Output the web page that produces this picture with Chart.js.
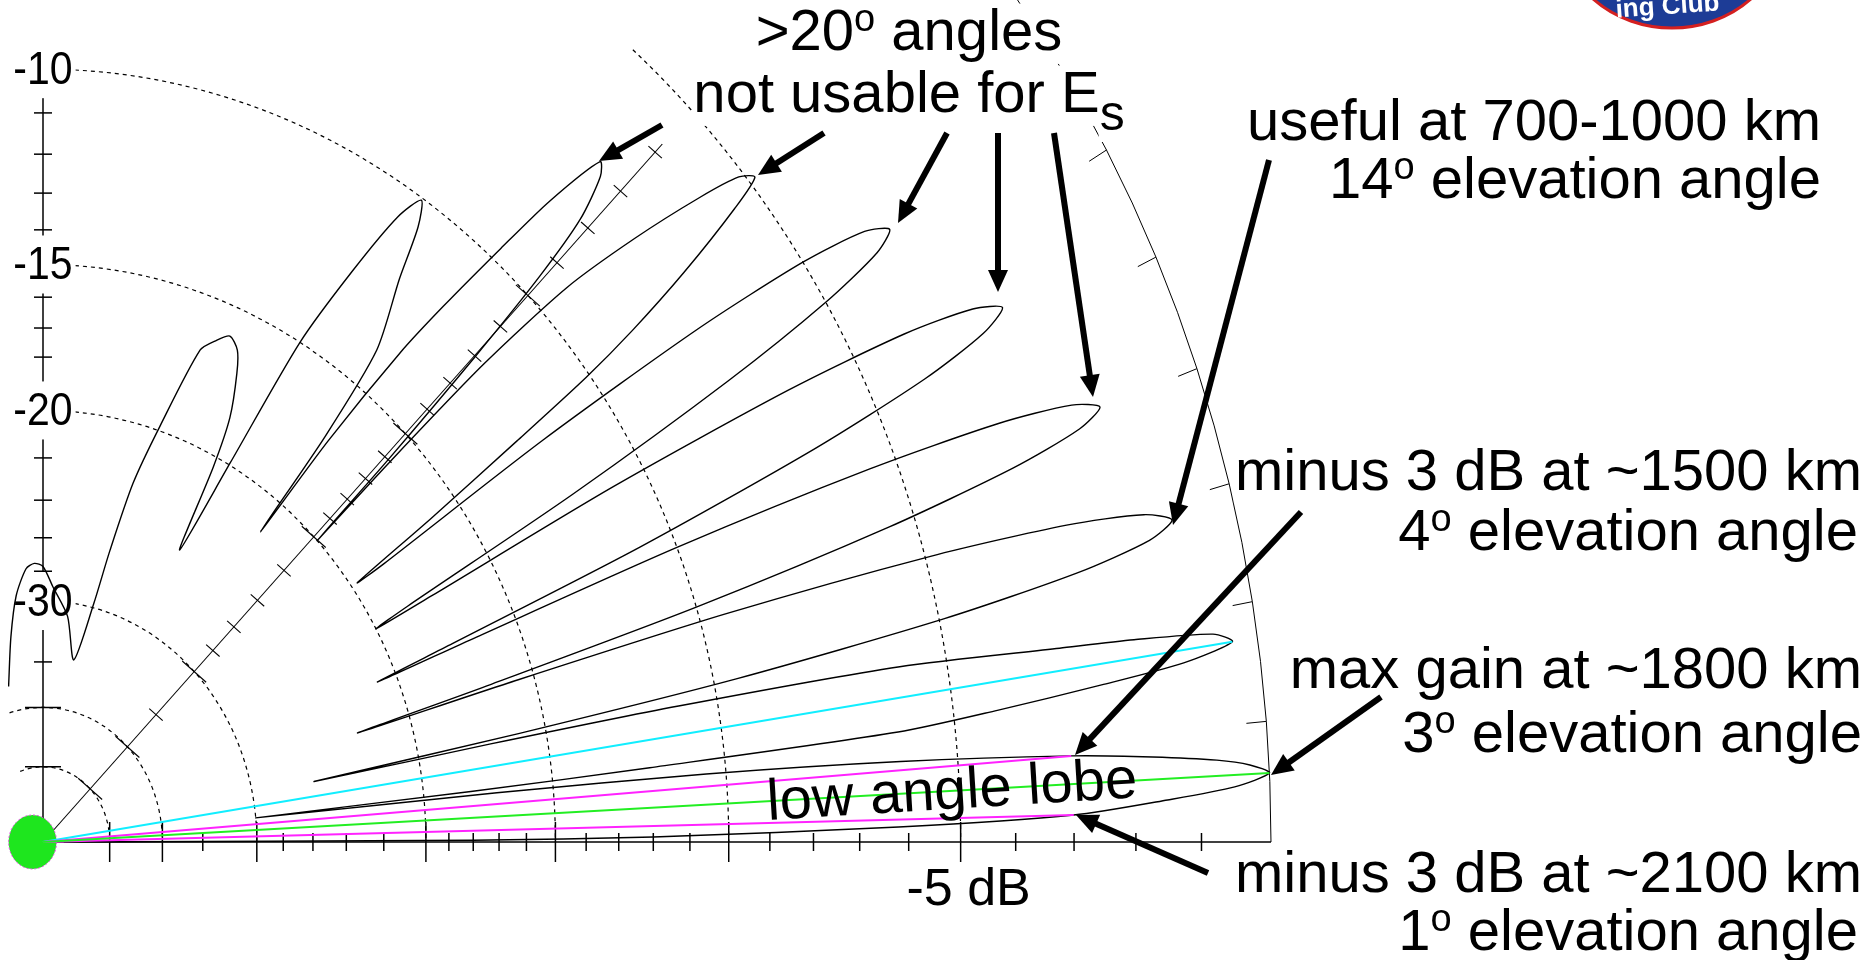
<!DOCTYPE html>
<html>
<head>
<meta charset="utf-8">
<title>Elevation pattern</title>
<script src="https://cdn.jsdelivr.net/npm/chart.js@4.4.1/dist/chart.umd.min.js"></script>
<style>
  html, body { margin: 0; padding: 0; background: #fff; }
  #wrap { width: 1875px; height: 960px; }
</style>
</head>
<body>
<div id="wrap"><canvas id="elev" width="1875" height="960"></canvas></div>
<script>
// elevation pattern: angle above horizon (deg) and gain (dB below max)
var elevDeg = [
    0, 0.2, 0.42, 0.89, 1.33, 1.9, 2.35, 2.86, 3.24, 3.54, 3.89, 4.25, 4.76, 5.2, 5.5, 5.75,
    5.97, 6.2, 6.51, 6.98, 7.5, 7.93, 8.5, 8.96, 9.34, 9.6, 10.29, 10.75, 11.0, 11.2,
    11.44, 11.8, 12.4, 13.0, 13.6, 14.2, 14.78, 15.36, 15.94, 16.52, 16.87, 17.1,
    17.34, 17.69, 18.28, 18.88, 19.47, 20.06, 20.65, 21.24, 21.82, 22.41, 22.76, 23.0,
    23.26, 23.66, 24.32, 24.98, 25.64, 26.3, 26.96, 27.62, 28.28, 28.94, 29.34, 29.6,
    29.85, 30.22, 30.84, 31.46, 32.08, 32.7, 33.4, 34.1, 34.8, 35.5, 35.92, 36.2,
    36.5, 36.9, 37.2, 37.6, 38.26, 39.1, 39.65, 40.3, 41.05, 42.15, 43.2, 43.9, 44.2, 44.3,
    44.5, 44.9, 45.3, 45.8, 46.65, 47.3, 48.3, 49.0, 49.9, 50.55, 51.3, 51.7,
    51.9, 52.6, 54.5, 55.5, 56.4, 57.4, 58.6, 59.9, 60.9, 62.2,
    62.9, 63.6, 65.0, 66.0, 67.4, 68.7, 70.2, 72.4, 74.2, 75.5, 76.5, 79.2,
    83, 87.5, 90, 92, 94, 97, 100, 104
];
var gainDb = [
    -70, -18, -12, -6.2, -3.0, -1.5, -0.5, 0, -0.27, -0.74, -1.7, -3.0, -6.1, -10.5, -17, -30,
    -18, -12, -6.1, -4.2, -2.4, -1.1, -0.36, -0.62, -1.8, -3.0, -5.9, -11, -17, -25.6,
    -15.9, -9.4, -4.9, -2.5, -1.3, -0.91, -1.3, -2.5, -4.9, -9.4, -15.9, -22.6,
    -16.5, -10, -5.5, -3.1, -1.9, -1.5, -1.9, -3.1, -5.5, -10, -16.5, -20.9,
    -17.4, -10.9, -6.4, -4.0, -2.8, -2.36, -2.8, -4.0, -6.4, -10.9, -17.4, -20,
    -18.4, -11.9, -7.4, -5.0, -3.8, -3.42, -3.8, -5.0, -7.4, -11.9, -18.4, -19.7,
    -16, -12.5, -10.1, -8.6, -7.0, -5.5, -4.87, -5.1, -5.9, -7.4, -9.2, -12, -16, -20,
    -16, -12, -9.5, -8.0, -7.1, -6.9, -8.2, -9.7, -11.7, -13.4, -17, -21.5,
    -17, -13.8, -11.9, -10.6, -10.05, -10.7, -12.5, -15, -19.9, -24.6,
    -20.4, -18.4, -16.9, -16.2, -15.9, -16.2, -16.7, -19.8, -22.5, -26.2, -29.7, -34.5,
    -31, -29, -27.7, -27.5, -27.8, -29.5, -32.5, -37
];

// marker lines drawn from the feed point
var peakDeg = 2.86, peakDb = 0;
var lobe2Deg = 8.5, lobe2Db = -0.36;
var halfPowerDeg = [1.33, 4.25], halfPowerDb = -3;

// grid
var ringDb = [-50, -40, -30, -20, -15, -10, -5];
var ringEndDeg = [110, 110, 90, 90, 90, 90, 50];
var tickDb = [-50, -40, -35, -30, -28, -26, -24, -22, -20, -19, -18, -17, -16, -15, -14, -13, -12, -11,
    -10, -9, -8, -7, -6, -5, -4, -3, -2, -1];
var axisLabelDb = [-30, -20, -15, -10];
var rimTickDeg = [5, 10, 15, 20, 25, 30, 35];
var cursorDeg = 45, cursorEndDb = -5.8;

var FAMILY = "'Liberation Sans', Arial, Helvetica, sans-serif";

// ARRL log scale: radius drops by 0.89 every 2 dB
function arrl(db) {
    return Math.pow(0.89, -db / 2);
}

function toXY(deg, db) {
    var r = arrl(db), t = deg * Math.PI / 180;
    return { x: r * Math.cos(t), y: r * Math.sin(t) };
}

var pattern = elevDeg.map(function (d, i) {
    return toXY(d, gainDb[i]);
});
var origin = { x: 0, y: 0 };

var gridPlugin = {
    id: 'polarGrid',
    beforeDatasetsDraw: function (chart) {
        var ctx = chart.ctx, xs = chart.scales.x, ys = chart.scales.y, area = chart.chartArea;
        var ox = xs.getPixelForValue(0), oy = ys.getPixelForValue(0);
        var kx = xs.getPixelForValue(1) - ox, ky = oy - ys.getPixelForValue(1);

        function pt(r, deg) {
            var t = deg * Math.PI / 180;
            return [ox + r * kx * Math.cos(t), oy - r * ky * Math.sin(t)];
        }
        function seg(p, q) {
            ctx.beginPath();
            ctx.moveTo(p[0], p[1]);
            ctx.lineTo(q[0], q[1]);
            ctx.stroke();
        }

        ctx.save();
        ctx.beginPath();
        ctx.rect(area.left, area.top, area.right - area.left, area.bottom - area.top);
        ctx.clip();

        ctx.strokeStyle = '#000';
        ctx.lineWidth = 1.2;
        ctx.setLineDash([4, 4]);
        ringDb.forEach(function (db, i) {
            var r = arrl(db);
            ctx.beginPath();
            ctx.ellipse(ox, oy, r * kx, r * ky, 0, -ringEndDeg[i] * Math.PI / 180, 0);
            ctx.stroke();
        });
        ctx.setLineDash([]);

        // 0 dB rim with 5 degree ticks
        ctx.lineWidth = 1;
        ctx.beginPath();
        ctx.ellipse(ox, oy, kx, ky, 0, -40 * Math.PI / 180, 0);
        ctx.stroke();
        rimTickDeg.forEach(function (deg) {
            seg(pt(1, deg), pt(1 - 20 / kx, deg));
        });

        // horizontal axis
        ctx.lineWidth = 1.5;
        seg([ox, oy], [ox + kx, oy]);
        tickDb.forEach(function (db) {
            var x = ox + arrl(db) * kx, big = ringDb.indexOf(db) >= 0;
            seg([x, oy - (big ? 20 : 9)], [x, oy + (big ? 20 : 9)]);
        });

        // vertical axis
        seg([ox, oy], [ox, oy - arrl(-10) * ky]);
        tickDb.forEach(function (db) {
            if (db > -10.5) return;
            var y = oy - arrl(db) * ky, h = ringDb.indexOf(db) >= 0 ? 18 : 9;
            seg([ox - h, y], [ox + h, y]);
        });

        // 45 degree cursor line
        ctx.lineWidth = 1.1;
        seg([ox, oy], pt(arrl(cursorEndDb), cursorDeg));
        var len = Math.sqrt(kx * kx + ky * ky), nx = ky / len, ny = kx / len;
        tickDb.forEach(function (db) {
            if (db > -6) return;
            var p = pt(arrl(db), cursorDeg), h = ringDb.indexOf(db) >= 0 ? 16 : 9;
            seg([p[0] - nx * h, p[1] - ny * h], [p[0] + nx * h, p[1] + ny * h]);
        });

        // dB labels on the vertical axis
        ctx.font = '41px ' + FAMILY;
        ctx.textAlign = 'center';
        ctx.textBaseline = 'middle';
        axisLabelDb.forEach(function (db) {
            var y = oy - arrl(db) * ky, t = String(db), w = ctx.measureText(t).width;
            ctx.fillStyle = '#fff';
            ctx.fillRect(ox - w / 2 - 3, y - 29, w + 6, 58);
            ctx.fillStyle = '#000';
            ctx.save();
            ctx.translate(ox, y + 2);
            ctx.scale(1, 1.12);
            ctx.fillText(t, 0, 0);
            ctx.restore();
        });

        // feed point marker
        var cx = xs.getPixelForValue(-0.0085);
        ctx.beginPath();
        ctx.ellipse(cx, oy, 0.0195 * kx, 0.0195 * ky, 0, 0, 2 * Math.PI);
        ctx.fillStyle = '#1ee61e';
        ctx.fill();
        ctx.strokeStyle = '#e04ae0';
        ctx.lineWidth = 1;
        ctx.setLineDash([2, 2]);
        ctx.stroke();
        ctx.setLineDash([]);
        ctx.restore();

        // scale label under the -5 dB ring
        ctx.save();
        ctx.font = '52px ' + FAMILY;
        ctx.fillStyle = '#000';
        ctx.textAlign = 'center';
        ctx.textBaseline = 'alphabetic';
        ctx.fillText('-5 dB', ox + arrl(-5) * kx + 8, 905);
        ctx.restore();
    }
};

// callouts
var notes = [
    { runs: [['>20', 58, 0], ['o', 38, -19], [' angles', 58, 0]], x: 909, y: 50, align: 'center' },
    { runs: [['not usable for E', 58, 0], ['s', 50, 18]], x: 909, y: 112, align: 'center' },
    { runs: [['useful at 700-1000 km', 58, 0]], x: 1821, y: 140, align: 'right' },
    { runs: [['14', 58, 0], ['o', 38, -19], [' elevation angle', 58, 0]], x: 1821, y: 198, align: 'right' },
    { runs: [['minus 3 dB at ~1500 km', 58, 0]], x: 1862, y: 490, align: 'right' },
    { runs: [['4', 58, 0], ['o', 38, -19], [' elevation angle', 58, 0]], x: 1858, y: 550, align: 'right' },
    { runs: [['max gain at ~1800 km', 58, 0]], x: 1862, y: 688, align: 'right' },
    { runs: [['3', 58, 0], ['o', 38, -19], [' elevation angle', 58, 0]], x: 1862, y: 752, align: 'right' },
    { runs: [['minus 3 dB at ~2100 km', 58, 0]], x: 1862, y: 892, align: 'right' },
    { runs: [['1', 58, 0], ['o', 38, -19], [' elevation angle', 58, 0]], x: 1858, y: 950, align: 'right' }
];
var arrows = [
    [662, 125, 599, 161], [824, 133, 758, 175], [947, 133, 898, 223], [998, 133, 998, 292],
    [1054, 133, 1093, 397], [1269, 160, 1173, 525], [1301, 512, 1075, 755],
    [1381, 697, 1271, 775], [1208, 873, 1076, 815]
];

var notesPlugin = {
    id: 'callouts',
    afterDraw: function (chart) {
        var ctx = chart.ctx;
        ctx.save();
        ctx.textBaseline = 'alphabetic';
        ctx.textAlign = 'left';

        notes.forEach(function (n) {
            var w = 0;
            n.runs.forEach(function (r) {
                ctx.font = r[1] + 'px ' + FAMILY;
                r.w = ctx.measureText(r[0]).width;
                w += r.w;
            });
            var x = n.align === 'right' ? n.x - w : n.align === 'center' ? n.x - w / 2 : n.x;
            var x0 = x;
            ctx.fillStyle = '#fff';
            n.runs.forEach(function (r) {
                ctx.fillRect(x0 - 1, n.y + r[2] - r[1] * 0.8, r.w + 2, r[1] * 1.04);
                x0 += r.w;
            });
            ctx.fillStyle = '#000';
            n.runs.forEach(function (r) {
                ctx.font = r[1] + 'px ' + FAMILY;
                ctx.fillText(r[0], x, n.y + r[2]);
                x += r.w;
            });
        });

        // label sitting on the main lobe
        ctx.save();
        ctx.translate(768, 820);
        ctx.rotate(-3.5 * Math.PI / 180);
        ctx.font = '58px ' + FAMILY;
        ctx.fillStyle = '#000';
        ctx.fillText('low angle lobe', 0, 0);
        ctx.restore();

        // arrows
        ctx.strokeStyle = '#000';
        ctx.fillStyle = '#000';
        ctx.lineWidth = 6;
        arrows.forEach(function (a) {
            var dx = a[2] - a[0], dy = a[3] - a[1], l = Math.sqrt(dx * dx + dy * dy);
            var ux = dx / l, uy = dy / l, hl = 22, hw = 10;
            var bx = a[2] - ux * hl, by = a[3] - uy * hl;
            ctx.beginPath();
            ctx.moveTo(a[0], a[1]);
            ctx.lineTo(bx + ux * 2, by + uy * 2);
            ctx.stroke();
            ctx.beginPath();
            ctx.moveTo(a[2], a[3]);
            ctx.lineTo(bx - uy * hw, by + ux * hw);
            ctx.lineTo(bx + uy * hw, by - ux * hw);
            ctx.closePath();
            ctx.fill();
        });

        // club badge peeking in at the top right
        ctx.beginPath();
        ctx.ellipse(1672, -72, 112, 100, 0, 0, 2 * Math.PI);
        ctx.fillStyle = '#1d3c96';
        ctx.fill();
        ctx.lineWidth = 3;
        ctx.strokeStyle = '#d42020';
        ctx.stroke();
        ctx.save();
        ctx.translate(1668, 14);
        ctx.rotate(-4 * Math.PI / 180);
        ctx.font = 'bold 26px ' + FAMILY;
        ctx.fillStyle = '#fff';
        ctx.textAlign = 'center';
        ctx.fillText('ing Club', 0, 0);
        ctx.restore();
        ctx.restore();
    }
};

// chart area: x=0 at 43px, 1228 px per unit; y=0 at 842px, 1384 px per unit
new Chart(document.getElementById('elev'), {
    type: 'scatter',
    data: {
        datasets: [
            { data: [origin, toXY(peakDeg, peakDb)], borderColor: '#22ee22' },
            { data: [origin, toXY(halfPowerDeg[0], halfPowerDb)], borderColor: '#ff22ff' },
            { data: [origin, toXY(halfPowerDeg[1], halfPowerDb)], borderColor: '#ff22ff' },
            { data: [origin, toXY(lobe2Deg, lobe2Db)], borderColor: '#11eeff' },
            { data: pattern, borderColor: '#000', borderWidth: 1.4, tension: 0.25 }
        ]
    },
    options: {
        responsive: false,
        animation: false,
        devicePixelRatio: 1,
        showLine: true,
        elements: {
            point: { radius: 0 },
            line: { borderWidth: 2, tension: 0, fill: false }
        },
        layout: { padding: { left: 8, right: 0, top: 0, bottom: 0 } },
        scales: {
            x: { type: 'linear', min: -0.028502, max: 1.49186, display: false },
            y: { type: 'linear', min: -0.08526, max: 0.608382, display: false }
        },
        plugins: {
            legend: { display: false },
            tooltip: { enabled: false }
        }
    },
    plugins: [gridPlugin, notesPlugin]
});
</script>
</body>
</html>
